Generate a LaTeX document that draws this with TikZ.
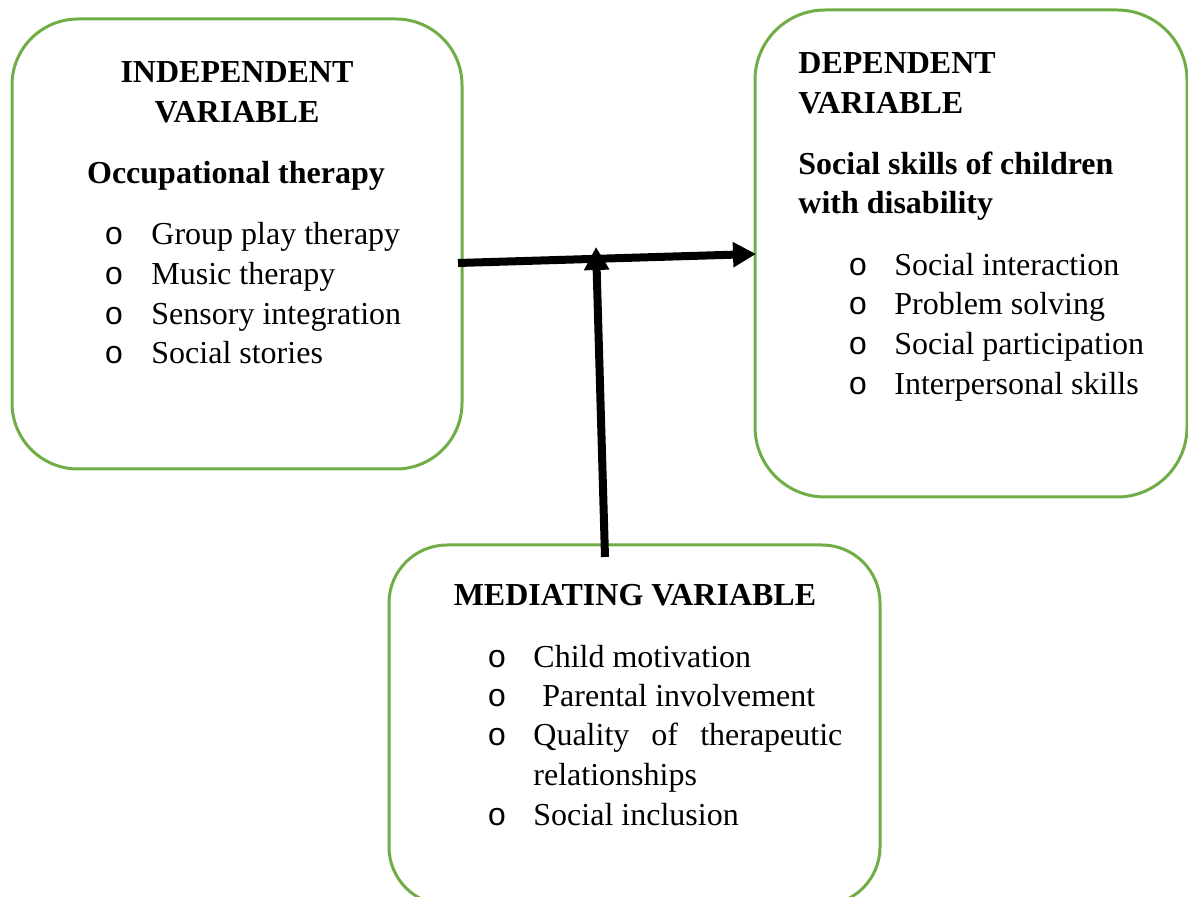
\documentclass[tikz,border=0pt]{standalone}
\usepackage{fontspec}
\setmainfont{Liberation Serif}
\newfontfamily\bulletfont{Liberation Mono}
\usetikzlibrary{arrows.meta}
\definecolor{boxgreen}{HTML}{70AD47}
\begin{document}
\begin{tikzpicture}[x=0.5pt,y=-0.5pt,
  varbox/.style={draw=boxgreen, line width=1.5pt, rounded corners=#1, inner sep=0pt},
  txt/.style={anchor=base west, inner sep=0pt, font=\fontsize{16}{19.85}\selectfont},
  ctxt/.style={anchor=base, inner sep=0pt, font=\fontsize{16}{19.85}\selectfont\bfseries},
  btxt/.style={anchor=base west, inner sep=0pt, font=\fontsize{16}{19.85}\selectfont\bfseries},
  bul/.style={anchor=base west, inner sep=0pt, font=\fontsize{16}{19.85}\bulletfont},
  link/.style={line width=4pt, -{Triangle[length=11.5pt,width=12pt]}}
]
\useasboundingbox (0,0) rectangle (1188,897);

% the three variable boxes
\node[varbox=33pt, minimum width=225pt, minimum height=225pt] (ind) at (237,244) {};
\node[varbox=35pt, minimum width=216pt, minimum height=243.5pt] (dep) at (971,253.5) {};
\node[varbox=29pt, minimum width=245.5pt, minimum height=180pt] (med) at (634.5,725) {};

% independent variable
\node[ctxt] (indA) at (237,83) {INDEPENDENT};
\node[ctxt] (indB) at (237,123) {VARIABLE};
\node[ctxt] (indC) at (236,184) {Occupational therapy};
\node[bul] (ib1) at (104,245) {o};
\node[txt] (it1) at (151,245) {Group play therapy};
\node[bul] (ib2) at (104,285) {o};
\node[txt] (it2) at (151,285) {Music therapy};
\node[bul] (ib3) at (104,325) {o};
\node[txt] (it3) at (151,325) {Sensory integration};
\node[bul] (ib4) at (104,364) {o};
\node[txt] (it4) at (151,364) {Social stories};

% dependent variable
\node[btxt] (depA) at (798,74) {DEPENDENT};
\node[btxt] (depB) at (798,114) {VARIABLE};
\node[btxt] (depC) at (798,175) {Social skills of children};
\node[btxt] (depD) at (798,214) {with disability};
\node[bul] (db1) at (848,276) {o};
\node[txt] (dt1) at (894,276) {Social interaction};
\node[bul] (db2) at (848,315) {o};
\node[txt] (dt2) at (894,315) {Problem solving};
\node[bul] (db3) at (848,355) {o};
\node[txt] (dt3) at (894,355) {Social participation};
\node[bul] (db4) at (848,395) {o};
\node[txt] (dt4) at (894,395) {Interpersonal skills};

% mediating variable
\node[ctxt] (medA) at (635,605) {MEDIATING VARIABLE};
\node[bul] (mb1) at (487,667) {o};
\node[txt] (mt1) at (533,667) {Child motivation};
\node[bul] (mb2) at (487,706) {o};
\node[txt] (mt2) at (542,706) {Parental involvement};
\node[bul] (mb3) at (487,745) {o};
\node[txt] (mt3) at (533,745) {\makebox[154.5pt][s]{Quality\hfill of\hfill therapeutic}};
\node[txt] (mt3b) at (533,785) {relationships};
\node[bul] (mb4) at (487,825) {o};
\node[txt] (mt4) at (533,825) {Social inclusion};

% connectors
\coordinate (hs) at (458,263);
\coordinate (he) at (756,254);
\coordinate (vs) at (605,557);
\coordinate (ve) at (596,247);
\draw[link] (hs) -- (he);
\draw[link] (vs) -- (ve);
\end{tikzpicture}
\end{document}
